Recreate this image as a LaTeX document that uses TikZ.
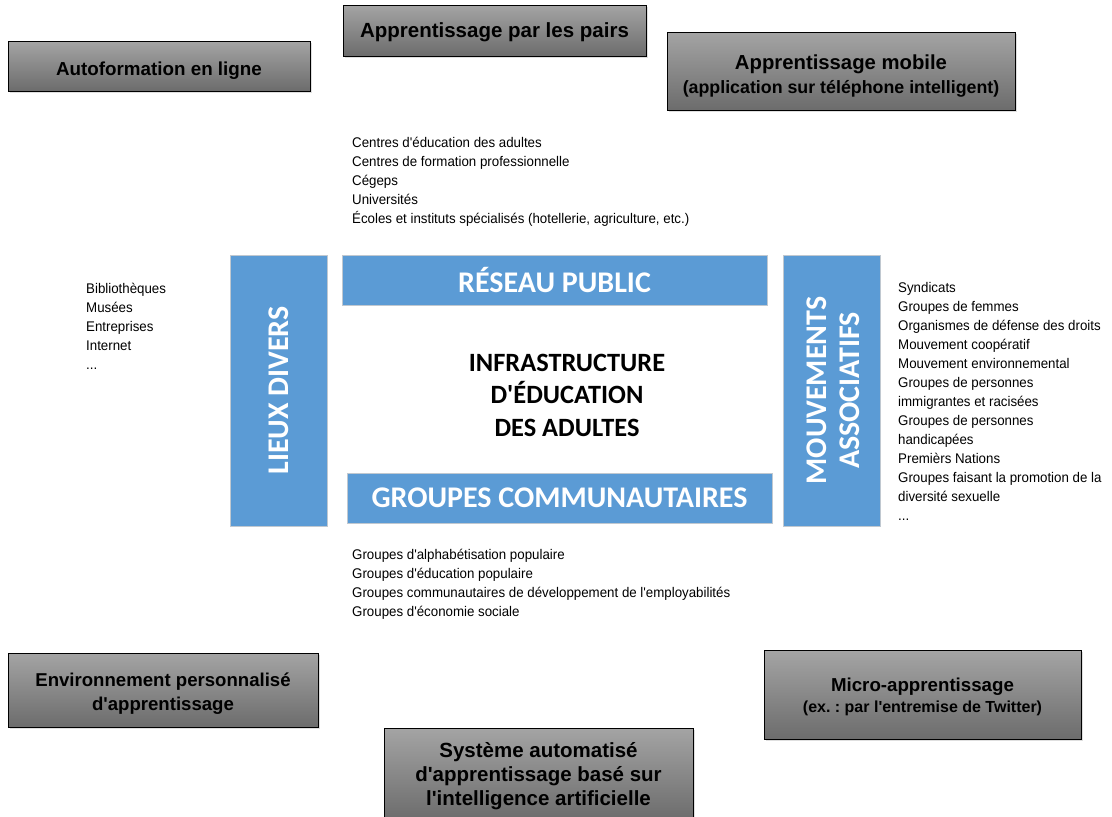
\documentclass[tikz,border=0pt]{standalone}
\usepackage{fontspec}
\setmainfont{Liberation Sans}[Ligatures=TeXOff]
\newfontfamily\calib{Carlito}
\newfontfamily\listfont[FakeStretch=0.95]{Liberation Sans}
\usetikzlibrary{shadows}
\frenchspacing
\definecolor{bluebox}{HTML}{5B9BD5}
\definecolor{blueedge}{HTML}{C0C8D0}
\definecolor{graytop}{HTML}{A4A4A4}
\definecolor{graybot}{HTML}{6C6C6C}
\tikzset{
  graybox/.style={draw=black, line width=1pt, top color=graytop, bottom color=graybot,
    inner sep=0pt,
    drop shadow={opacity=0.25, shadow xshift=1.5pt, shadow yshift=-1.5pt}},
  boxtext/.style={inner sep=0pt, align=center, font=\bfseries\fontsize{19}{24}\selectfont},
  bluebox/.style={draw=blueedge, line width=0.8pt, fill=bluebox, inner sep=0pt,
    text=white, align=center, font=\calib\bfseries\fontsize{30}{33}\selectfont},
  bluetext/.style={text=white, font=\calib\bfseries\fontsize{30}{33}\selectfont,
    rotate=90, inner sep=0pt, align=center},
  listtext/.style={inner sep=0pt, align=left, anchor=north west,
    font=\listfont\fontsize{14}{19}\selectfont},
  centertext/.style={inner sep=0pt, align=center, font=\calib\bfseries\fontsize{26.4}{32.5}\selectfont}
}
\begin{document}
\begin{tikzpicture}[x=1pt,y=-1pt]
\useasboundingbox (0,0) rectangle (1112,817);
% gray boxes
\node[graybox, minimum width=302pt, minimum height=50pt] (auto) at (159,66) {};
\node[boxtext, font=\bfseries\fontsize{18.8}{24}\selectfont] (autot) at ([yshift=-5pt]auto.center) {Autoformation en ligne};
\node[graybox, minimum width=303pt, minimum height=51pt] (pairs) at (494.5,30.5) {};
\node[boxtext, font=\bfseries\fontsize{20.5}{24}\selectfont] (pairst) at ([yshift=-2pt]pairs.center) {Apprentissage par les pairs};
\node[graybox, minimum width=348pt, minimum height=78pt] (mobile) at (841,71) {};
\node[boxtext, font=\bfseries\fontsize{20.3}{24}\selectfont] (mobilet) at ([yshift=-5pt]mobile.center)
  {Apprentissage mobile\\{\fontsize{17.8}{24}\selectfont(application sur téléphone intelligent)}};
\node[graybox, minimum width=310pt, minimum height=74pt] (env) at (163,690) {};
\node[boxtext, font=\bfseries\fontsize{18.6}{24}\selectfont] (envt) at ([yshift=-4pt]env.center)
  {Environnement personnalisé\\d'apprentissage};
\node[graybox, minimum width=309pt, minimum height=92pt] (sys) at (538.5,774) {};
\node[boxtext, font=\bfseries\fontsize{20.5}{24}\selectfont] (syst) at ([yshift=-2pt]sys.center)
  {Système automatisé\\d'apprentissage basé sur\\l'intelligence artificielle};
\node[graybox, minimum width=317pt, minimum height=89pt] (micro) at (922.5,695) {};
\node[boxtext, font=\bfseries\fontsize{18.7}{21}\selectfont] (microt) at ([yshift=-2pt]micro.center)
  {Micro-apprentissage\\{\fontsize{16}{21}\selectfont(ex. : par l'entremise de Twitter)}};
% blue boxes
\node[bluebox, minimum width=97pt, minimum height=271pt] (lieux) at (278.5,390.5) {};
\node[bluetext] (lieuxt) at (lieux.center) {LIEUX DIVERS};
\node[bluebox, minimum width=425pt, minimum height=50pt] (reseau) at (554.5,280) {RÉSEAU PUBLIC};
\node[bluebox, minimum width=425pt, minimum height=50pt] (groupes) at (559.5,498) {GROUPES COMMUNAUTAIRES};
\node[bluebox, minimum width=97pt, minimum height=271pt] (mouv) at (831.5,390.5) {};
\node[bluetext] (mouvt) at ([xshift=1.5pt]mouv.center) {MOUVEMENTS\\ASSOCIATIFS};
% center
\node[centertext] (infra) at (567,395) {INFRASTRUCTURE\\D'ÉDUCATION\\DES ADULTES};
% lists
\node[listtext] (top) at (352,137) {Centres d'éducation des adultes\\Centres de formation professionnelle\\Cégeps\\Universités\\Écoles et instituts spécialisés (hotellerie, agriculture, etc.)};
\node[listtext] (left) at (86,283) {Bibliothèques\\Musées\\Entreprises\\Internet\\...};
\node[listtext] (right) at (898,282) {Syndicats\\Groupes de femmes\\Organismes de défense des droits\\Mouvement coopératif\\Mouvement environnemental\\Groupes de personnes\\immigrantes et racisées\\Groupes de personnes\\handicapées\\Premièrs Nations\\Groupes faisant la promotion de la\\diversité sexuelle\\...};
\node[listtext] (bottom) at (352,549) {Groupes d'alphabétisation populaire\\Groupes d'éducation populaire\\Groupes communautaires de développement de l'employabilités\\Groupes d'économie sociale};
\end{tikzpicture}
\end{document}
